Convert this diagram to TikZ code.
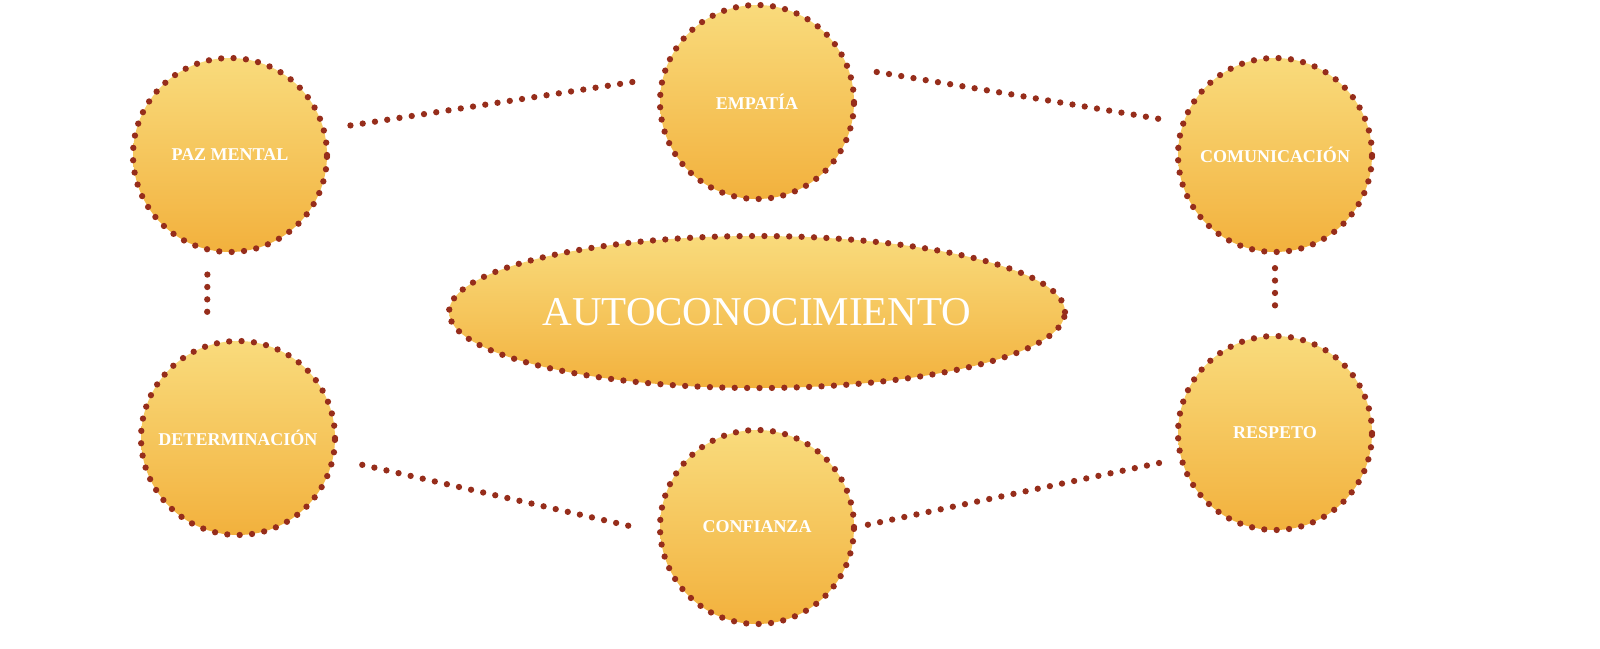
\documentclass[tikz,border=0pt]{standalone}
\usepackage{fontspec}
\setmainfont{Liberation Serif}
\usetikzlibrary{shapes.geometric}
\definecolor{dotred}{HTML}{962D1B}
\definecolor{ytop}{HTML}{F9DB7C}
\definecolor{ymid}{HTML}{F8D470}
\definecolor{ybot}{HTML}{F2B13D}
\tikzset{
  dots/.style={draw=dotred, line width=6.3pt, line cap=round, dash pattern=on 0pt off 12.4pt},
  bubble/.style={circle, minimum size=194pt, inner sep=0pt, dots,
    top color=ytop, middle color=ymid, bottom color=ybot,
    text=white, font=\bfseries\fontsize{18}{20}\selectfont},
  link/.style={dots}
}
\begin{document}
\begin{tikzpicture}[x=1pt,y=-1pt]
\useasboundingbox (0,0) rectangle (1600,648);
\node[bubble] (paz) at (230,155) {PAZ MENTAL};
\node[bubble] (emp) at (757,102) {EMPATÍA};
\node[bubble] (com) at (1275,155) {COMUNICACIÓN};
\node[bubble] (det) at (238,438) {DETERMINACIÓN};
\node[bubble] (conf) at (757,527) {CONFIANZA};
\node[bubble] (res) at (1275,433) {RESPETO};
\node[ellipse, minimum width=616pt, minimum height=152pt, inner sep=0pt, dots,
  top color=ytop, middle color=ymid, bottom color=ybot,
  text=white, font=\fontsize{41}{44}\selectfont] (auto) at (757,312) {AUTOCONOCIMIENTO};
\draw[link, shorten <=24pt, shorten >=23pt] (paz.15) -- (emp.166);
\draw[link, shorten <=26pt, shorten >=19pt] (emp.20) -- (com.161);
\draw[link, shorten <=22pt, shorten >=21pt] (paz.-103) -- (det.108);
\draw[link, shorten <=13pt, shorten >=21pt] (com.south) -- (res.north);
\draw[link, shorten <=27pt, shorten >=19pt] (det.-12) -- (conf.183);
\draw[link, shorten <=11pt, shorten >=13pt] (conf.0) -- (res.195);
\end{tikzpicture}
\end{document}
